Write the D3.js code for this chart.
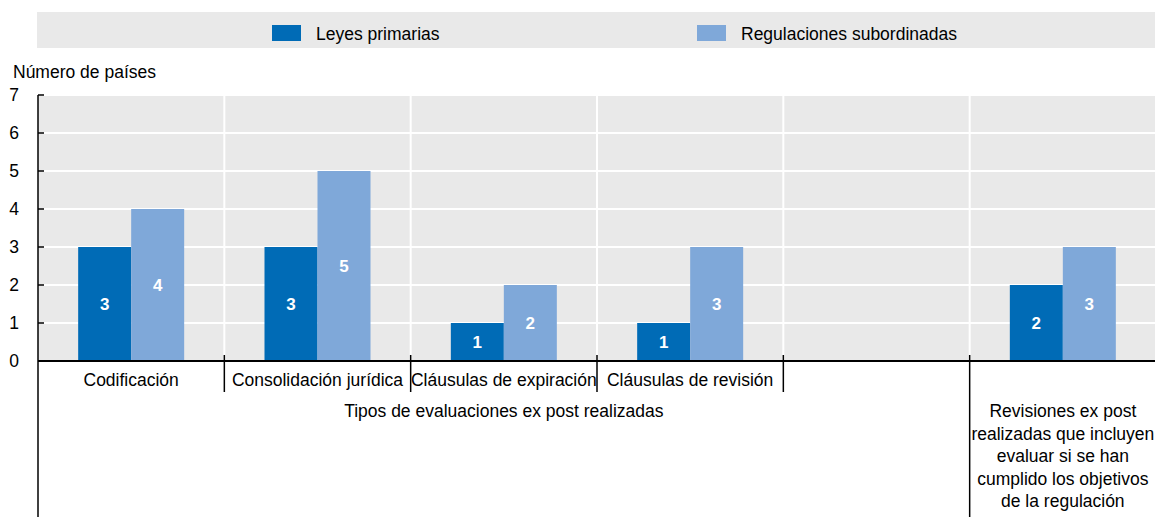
<!DOCTYPE html>
<html>
<head>
<meta charset="utf-8">
<script src="https://cdn.jsdelivr.net/npm/d3@7"></script>
<style>
  body { margin: 0; background: #fff; }
  svg text { font-family: "Liberation Sans Narrow", "Arial Narrow", "Liberation Sans", Arial, sans-serif; fill: #000; }
</style>
</head>
<body>
<div id="chart"></div>
<script>
var categories = ["Codificación", "Consolidación jurídica", "Cláusulas de expiración", "Cláusulas de revisión", "", "Revisiones ex post realizadas que incluyen evaluar si se han cumplido los objetivos de la regulación"];
var rightLabelLines = ["Revisiones ex post", "realizadas que incluyen", "evaluar si se han", "cumplido los objetivos", "de la regulación"];
var seriesNames = ["Leyes primarias", "Regulaciones subordinadas"];
var leyesPrimarias = [3, 3, 1, 1, null, 2];
var regulacionesSubordinadas = [4, 5, 2, 3, null, 3];
var yTicks = [0, 1, 2, 3, 4, 5, 6, 7];
var groupLabel = "Tipos de evaluaciones ex post realizadas";
var yLabel = "Número de países";

var width = 1155,
  height = 517;
var colors = ["#006bb6", "#7fa8d9"];
var bg = "#e9e9e9";
var fs = 17.5;

var svg = d3.select("#chart").append("svg")
  .attr("width", width)
  .attr("height", height);

var pLeft = 38, pRight = 1156, pTop = 95, pBottom = 361;

var keys = categories.map(function(d, i) { return "c" + i; });
var x = d3.scaleBand().domain(keys).range([pLeft, pRight]).padding(0);
var y = d3.scaleLinear().domain([0, 7]).range([pBottom, pTop]);
var barW = 53;
var x1 = d3.scaleBand().domain(seriesNames).range([-barW, barW]).padding(0);

// legend band
svg.append("rect")
  .attr("x", 37).attr("y", 12)
  .attr("width", width - 37).attr("height", 36)
  .attr("fill", bg);

var legendX = [272, 697];
seriesNames.forEach(function(s, i) {
  svg.append("rect")
    .attr("x", legendX[i]).attr("y", 25)
    .attr("width", 29).attr("height", 16)
    .attr("fill", colors[i]);
  svg.append("text")
    .attr("x", legendX[i] + 44).attr("y", 40)
    .attr("font-size", fs)
    .text(s);
});

// plot background
svg.append("rect")
  .attr("x", pLeft).attr("y", pTop)
  .attr("width", pRight - pLeft).attr("height", pBottom - pTop)
  .attr("fill", bg);

// horizontal white gridlines
svg.selectAll(".hgrid")
  .data(yTicks.slice(1))
  .enter().append("line")
  .attr("x1", pLeft).attr("x2", pRight)
  .attr("y1", function(d) { return y(d); })
  .attr("y2", function(d) { return y(d); })
  .attr("stroke", "#fff").attr("stroke-width", 2);

// vertical white separators
var seps = keys.slice(1).map(function(k) { return x(k); });
svg.selectAll(".vgrid")
  .data(seps)
  .enter().append("line")
  .attr("x1", function(d) { return d; }).attr("x2", function(d) { return d; })
  .attr("y1", pTop).attr("y2", pBottom)
  .attr("stroke", "#fff").attr("stroke-width", 2);

// bars
var rows = categories.map(function(c, i) {
  return { key: keys[i], values: [leyesPrimarias[i], regulacionesSubordinadas[i]] };
});

var g = svg.selectAll(".grp")
  .data(rows)
  .enter().append("g")
  .attr("transform", function(d) { return "translate(" + (x(d.key) + x.bandwidth() / 2) + ",0)"; });

var bar = g.selectAll(".bar")
  .data(function(d) {
    return d.values.map(function(v, j) { return { s: seriesNames[j], v: v, j: j }; })
      .filter(function(e) { return e.v != null; });
  })
  .enter();

bar.append("rect")
  .attr("x", function(d) { return x1(d.s); })
  .attr("y", function(d) { return y(d.v); })
  .attr("width", x1.bandwidth())
  .attr("height", function(d) { return y(0) - y(d.v); })
  .attr("fill", function(d) { return colors[d.j]; });

bar.append("text")
  .attr("x", function(d) { return x1(d.s) + x1.bandwidth() / 2; })
  .attr("y", function(d) { return (y(0) + y(d.v)) / 2; })
  .attr("dy", "0.35em")
  .attr("text-anchor", "middle")
  .attr("font-size", 17)
  .attr("font-weight", "bold")
  .style("fill", "#fff")
  .text(function(d) { return d.v; });

// y axis
svg.append("line")
  .attr("x1", pLeft).attr("x2", pLeft)
  .attr("y1", pTop).attr("y2", height)
  .attr("stroke", "#000").attr("stroke-width", 1.5);

svg.selectAll(".ytick")
  .data(yTicks)
  .enter().append("line")
  .attr("x1", pLeft).attr("x2", pLeft + 6)
  .attr("y1", function(d) { return y(d); })
  .attr("y2", function(d) { return y(d); })
  .attr("stroke", "#000").attr("stroke-width", 1.5);

svg.selectAll(".ylab")
  .data(yTicks)
  .enter().append("text")
  .attr("x", 14)
  .attr("y", function(d) { return y(d); })
  .attr("dy", "0.35em")
  .attr("text-anchor", "middle")
  .attr("font-size", fs)
  .text(function(d) { return d; });

svg.append("text")
  .attr("x", 13).attr("y", 78)
  .attr("font-size", fs)
  .text(yLabel);

// x axis
svg.append("line")
  .attr("x1", pLeft).attr("x2", pRight)
  .attr("y1", pBottom).attr("y2", pBottom)
  .attr("stroke", "#000").attr("stroke-width", 2);

seps.forEach(function(s, i) {
  svg.append("line")
    .attr("x1", s).attr("x2", s)
    .attr("y1", pBottom - 6).attr("y2", i === seps.length - 1 ? height : 392)
    .attr("stroke", "#000").attr("stroke-width", 1.5);
});

svg.selectAll(".xlab")
  .data(rows.slice(0, 4))
  .enter().append("text")
  .attr("x", function(d) { return x(d.key) + x.bandwidth() / 2; })
  .attr("y", 386)
  .attr("text-anchor", "middle")
  .attr("font-size", fs)
  .text(function(d, i) { return categories[i]; });

svg.append("text")
  .attr("x", (pLeft + x(keys[5])) / 2)
  .attr("y", 417)
  .attr("text-anchor", "middle")
  .attr("font-size", fs)
  .text(groupLabel);

var rt = svg.append("text")
  .attr("text-anchor", "middle")
  .attr("font-size", fs);
rightLabelLines.forEach(function(l, i) {
  rt.append("tspan")
    .attr("x", x(keys[5]) + x.bandwidth() / 2)
    .attr("y", 417 + i * 22.5)
    .text(l);
});
</script>
</body>
</html>
